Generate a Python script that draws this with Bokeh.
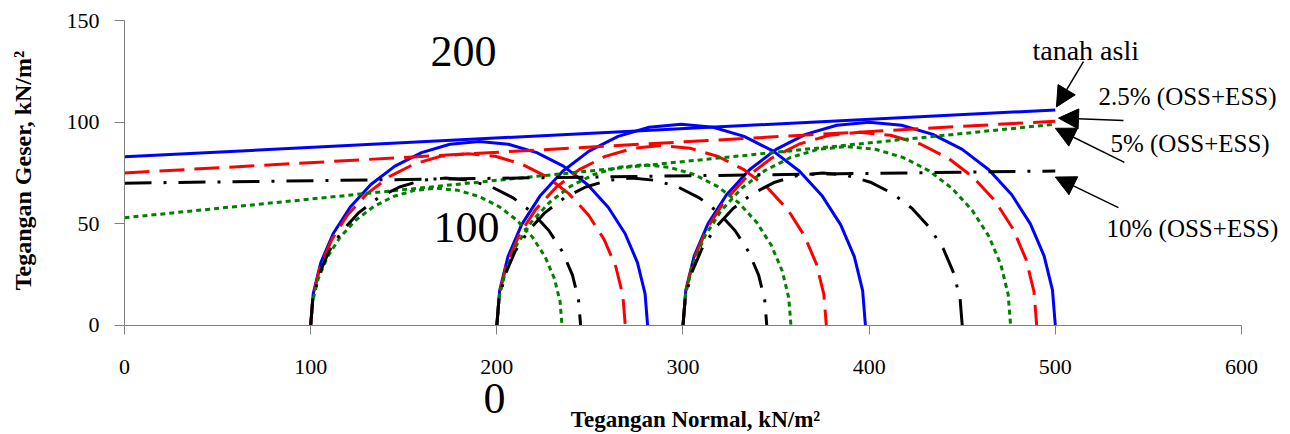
import numpy as np
from bokeh.plotting import figure
from bokeh.models import Range1d, Label, Arrow, NormalHead, FixedTicker
from bokeh.embed import file_html
from bokeh.resources import INLINE

# Mohr circles: minor and major principal stresses (kN/m2) per test series
sigma3 = [100, 200, 300]
sigma1_asli = [281, 398, 500]
sigma1_2_5 = [269, 377, 490]
sigma1_5 = [235, 358, 476]
sigma1_10 = [245, 345, 450]

# failure envelopes, shear stress at sigma = 0 and sigma = 500
env_sigma = [0, 500]
env_asli = [83, 106]
env_2_5 = [75, 100.5]
env_5 = [53, 99]
env_10 = [70, 76]

x_ticks = [0, 100, 200, 300, 400, 500, 600]
y_ticks = [0, 50, 100, 150]

SERIF = "Liberation Serif"

# The frame fills the whole canvas so that notes outside the axes stay visible;
# the axes are pinned at sigma = 0 and tau = 0.
p = figure(width=1290, height=434, output_backend="svg", toolbar_location=None,
           x_range=Range1d(-66.61, 626.33), y_range=Range1d(-53.61, 159.84),
           min_border=0)
p.outline_line_color = None
p.grid.visible = False
p.background_fill_color = "white"
p.border_fill_color = "white"

for ax in (p.xaxis[0], p.yaxis[0]):
    ax.axis_line_color = "#808080"
    ax.major_tick_line_color = "#808080"
    ax.minor_tick_line_color = None
    ax.major_tick_in = 0
    ax.major_label_text_font = SERIF
    ax.major_label_text_font_size = "22px"
    ax.major_label_text_color = "black"
    ax.fixed_location = 0

p.xaxis.ticker = FixedTicker(ticks=x_ticks)
p.yaxis.ticker = FixedTicker(ticks=y_ticks)
p.xaxis.bounds = (0, 600)
p.yaxis.bounds = (0, 150)
p.xaxis.major_tick_out = 9
p.yaxis.major_tick_out = 10
p.xaxis.major_label_standoff = 26
p.yaxis.major_label_standoff = 15

# axis titles
p.add_layout(Label(x=306.7, y=-46.2, text="Tegangan Normal, kN/m²",
                   text_font=SERIF, text_font_size="23px", text_font_style="bold",
                   text_color="black", text_align="center",
                   text_baseline="alphabetic"))
p.add_layout(Label(x=-54.3, y=76.2, text="Tegangan Geser, kN/m²", angle=np.pi / 2,
                   text_font=SERIF, text_font_size="24px", text_font_style="bold",
                   text_color="black", text_align="center", text_baseline="middle"))


def mohr(s3, s1, step_deg=10):
    c = (s1 + s3) / 2.0
    r = (s1 - s3) / 2.0
    t = np.radians(np.arange(180, -1, -step_deg))
    return c + r * np.cos(t), r * np.sin(t)


series = [
    (sigma1_asli, env_asli, "#0000FF", "solid"),
    (sigma1_2_5, env_2_5, "#FF0000", "25 10"),
    (sigma1_5, env_5, "#008000", "5 4"),
    (sigma1_10, env_10, "#000000", "27 12 3 12"),
]

for s1_list, env, color, dash in series:
    p.line(env_sigma, env, line_color=color, line_width=3, line_dash=dash)
    for s3, s1 in zip(sigma3, s1_list):
        xs, ys = mohr(s3, s1)
        p.line(xs, ys, line_color=color, line_width=3, line_dash=dash)

# series labels with pointers to the envelope ends
labels = [
    ("tanah asli", "28px", 487.7, 135.2, (515.1, 129.8), (500.6, env_asli[1] + 1.5)),
    ("2.5% (OSS+ESS)", "25px", 523.2, 112.8, (536.6, 100.8), (501.7, env_2_5[1] + 1.5)),
    ("5% (OSS+ESS)", "25px", 529.6, 89.7, (537.1, 80.2), (500.0, env_5[1] - 2.0)),
    ("10% (OSS+ESS)", "25px", 527.5, 47.9, (533.9, 58.0), (500.0, env_10[1] - 3.0)),
]
for text, size, tx, ty, (x0, y0), (x1, y1) in labels:
    p.add_layout(Label(x=tx, y=ty, text=text, text_font=SERIF,
                       text_font_size=size, text_color="black",
                       text_align="left", text_baseline="alphabetic"))
    p.add_layout(Arrow(x_start=x0, y_start=y0, x_end=x1, y_end=y1,
                       line_color="black", line_width=1.5,
                       end=NormalHead(size=20, fill_color="black",
                                      line_color="black")))

# large stray scale labels
for text, tx, ty in [("200", 164.4, 134.8), ("100", 166.0, 48.2), ("0", 192.8, -35.9)]:
    p.add_layout(Label(x=tx, y=ty, text=text, text_font=SERIF,
                       text_font_size="44px", text_color="black",
                       text_align="left", text_baseline="alphabetic"))

open("out.html", "w").write(file_html(p, INLINE))
